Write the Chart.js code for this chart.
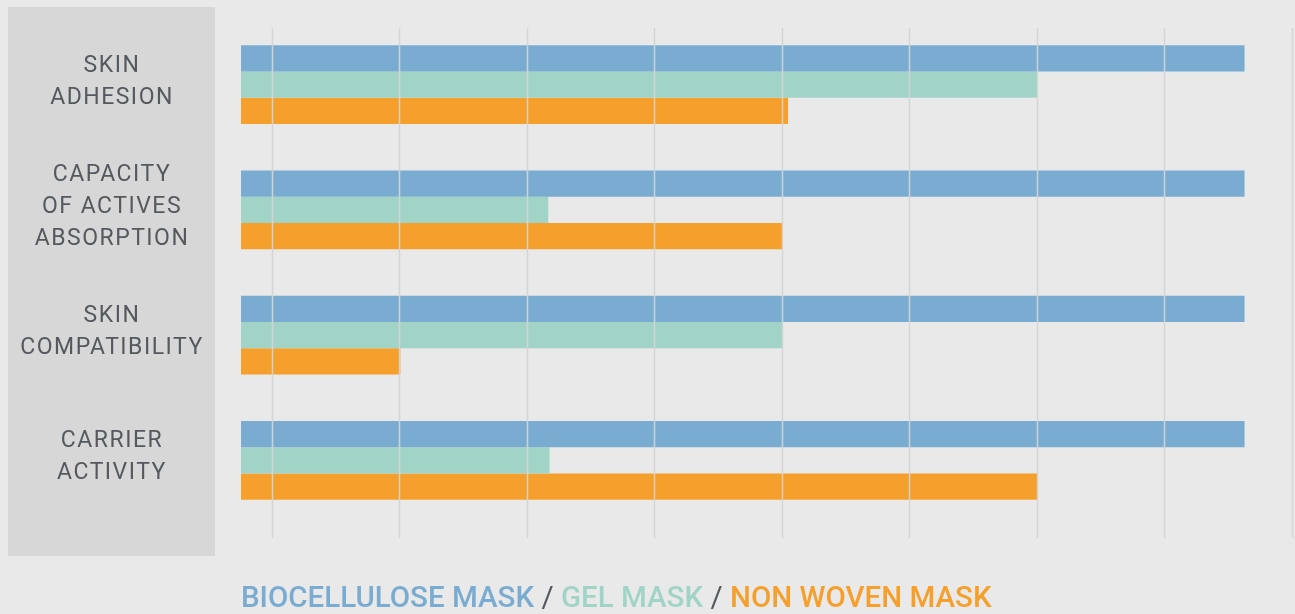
<!DOCTYPE html>
<html>
<head>
<meta charset="utf-8">
<script src="https://cdn.jsdelivr.net/npm/chart.js@4/dist/chart.umd.min.js"></script>
<style>
  html, body { margin: 0; padding: 0; background: #e9e9e9; }
  #wrap { position: relative; width: 1295px; height: 614px; }
  #legend {
    position: absolute; left: 241px; top: 583px;
    font-family: Roboto, sans-serif; font-size: 29.5px; font-weight: 500; line-height: 1;
    white-space: nowrap;
  }
  #legend .sep { color: #55595d; font-weight: 400; }
</style>
</head>
<body>
<div id="wrap">
  <canvas id="myChart"></canvas>
  <div id="legend">
    <span style="color:#7aacd1">BIOCELLULOSE MASK</span>
    <span class="sep">/</span>
    <span style="color:#a1d4c7">GEL MASK</span>
    <span class="sep">/</span>
    <span style="color:#f5a02c">NON WOVEN MASK</span>
  </div>
</div>
<script>
const categories = [
    ['SKIN', 'ADHESION'],
    ['CAPACITY', 'OF ACTIVES', 'ABSORPTION'],
    ['SKIN', 'COMPATIBILITY'],
    ['CARRIER', 'ACTIVITY']
];
const seriesNames = ['BIOCELLULOSE MASK', 'GEL MASK', 'NON WOVEN MASK'];
const biocellulose = [7.87, 7.87, 7.87, 7.87];
const gel = [6.25, 2.41, 4.25, 2.42];
const nonWoven = [4.29, 4.25, 1.25, 6.25];
const gridValues = [0.25, 1.25, 2.25, 3.25, 4.25, 5.25, 6.25, 7.25, 8.25];

const colors = ['#7aacd1', '#a1d4c7', '#f5a02c'];

// grey panel behind the category names, then the names themselves
const sidePanel = {
    id: 'sidePanel',
    beforeDraw(chart) {
        const ctx = chart.ctx;
        ctx.save();
        ctx.fillStyle = '#d7d7d7';
        ctx.fillRect(8, 7, 207, 549);
        ctx.restore();
    },
    afterDraw(chart) {
        const ctx = chart.ctx;
        const y = chart.scales.y;
        ctx.save();
        ctx.fillStyle = '#55595d';
        ctx.font = '23px Roboto';
        ctx.letterSpacing = '1.5px';
        ctx.textAlign = 'center';
        ctx.textBaseline = 'alphabetic';
        categories.forEach((lines, i) => {
            const mid = y.getPixelForValue(i) - 5;
            const top = mid - (lines.length - 1) * 16;
            lines.forEach((line, j) => {
                ctx.fillText(line, 112, top + j * 32 + 8);
            });
        });
        ctx.restore();
    }
};

// vertical guides drawn over the bars
const guides = {
    id: 'guides',
    afterDatasetsDraw(chart) {
        const ctx = chart.ctx;
        const x = chart.scales.x;
        ctx.save();
        ctx.strokeStyle = 'rgba(212,212,212,0.95)';
        ctx.lineWidth = 1.5;
        gridValues.forEach(v => {
            const px = Math.round(x.getPixelForValue(v)) - 0.5;
            ctx.beginPath();
            ctx.moveTo(px, 28);
            ctx.lineTo(px, 538);
            ctx.stroke();
        });
        ctx.restore();
    }
};

ctx = document.getElementById('myChart').getContext('2d');
myChart = new Chart(ctx, {
    type: 'bar',
    data: {
        labels: categories,
        datasets: [biocellulose, gel, nonWoven].map((vals, i) => ({
            label: seriesNames[i],
            data: vals,
            backgroundColor: colors[i],
            borderWidth: 0,
            categoryPercentage: 0.63,
            barPercentage: 1
        }))
    },
    options: {
        indexAxis: 'y',
        responsive: true,
        maintainAspectRatio: false,
        animation: false,
        layout: {
            padding: {left: 241, right: 2, top: 22, bottom: 91}
        },
        plugins: {
            legend: {display: false},
            tooltip: {enabled: false}
        },
        scales: {
            x: {
                display: false,
                min: 0,
                max: 8.25
            },
            y: {
                display: false
            }
        }
    },
    plugins: [sidePanel, guides]
});
</script>
</body>
</html>
